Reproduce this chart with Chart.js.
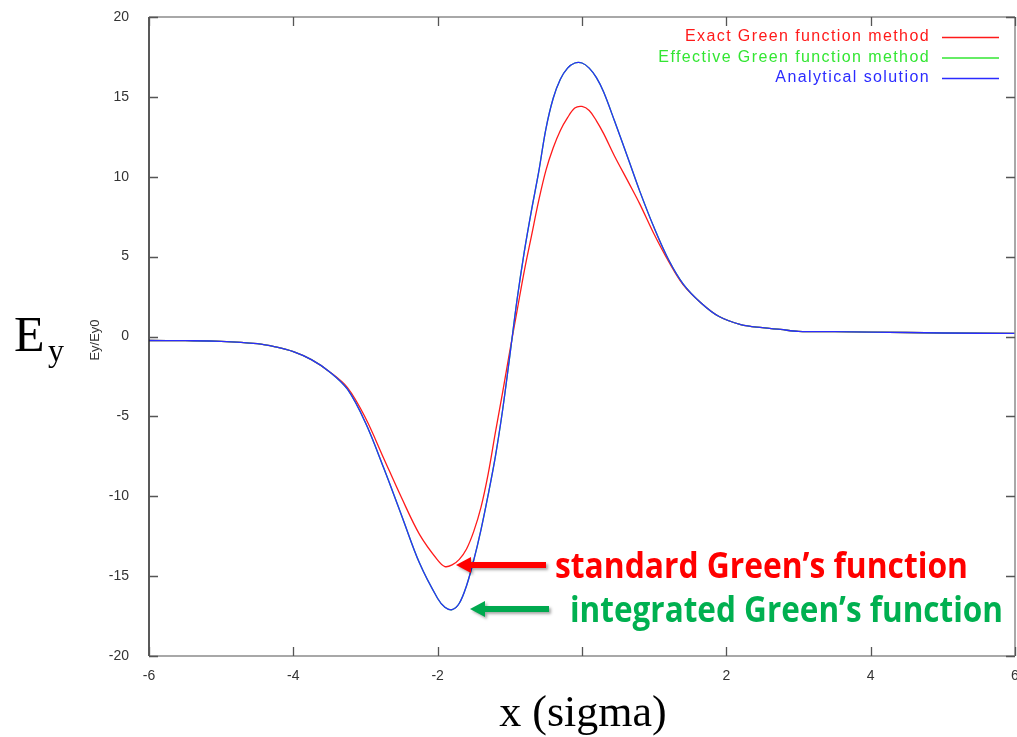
<!DOCTYPE html>
<html>
<head>
<meta charset="utf-8">
<script src="https://cdn.jsdelivr.net/npm/chart.js@4"></script>
<style>
  html, body { margin: 0; padding: 0; background: #fff; }
  #wrap { width: 1017px; height: 737px; }
</style>
</head>
<body>
<div id="wrap"><canvas id="fieldChart" width="1017" height="737"></canvas></div>
<script>
// transverse field Ey/Ey0 against x in units of sigma
const xSigma = [-6, -5.5, -5, -4.5, -4.25, -4, -3.75, -3.5, -3.25, -3, -2.75, -2.5, -2.25, -2,
  -1.9, -1.8, -1.7, -1.6, -1.5, -1.4, -1.3, -1.2, -1.1, -1, -0.9, -0.8, -0.7, -0.6, -0.5,
  -0.4, -0.3, -0.2, -0.1, 0, 0.1, 0.2, 0.3, 0.45, 0.65, 0.8, 1, 1.2, 1.4, 1.65, 1.9, 2.2, 2.5,
  2.75, 3, 3.5, 4, 5, 6]

const exactGreen = [-0.25, -0.26, -0.3, -0.45, -0.65, -0.95, -1.45, -2.2, -3.2, -5.1, -7.6, -10.1, -12.4, -14.0,
  -14.4, -14.3, -13.95, -13.3, -12.2, -10.7, -8.6, -6.0, -3.5, -0.9, 1.6, 4.1, 6.3, 8.5, 10.4,
  11.8, 12.9, 13.7, 14.3, 14.4, 14.15, 13.5, 12.7, 11.3, 9.6, 8.3, 6.4, 4.7, 3.25, 2.1, 1.25, 0.75, 0.55,
  0.44, 0.32, 0.3, 0.28, 0.22, 0.19]

const effectiveGreen = [-0.25, -0.26, -0.3, -0.45, -0.65, -0.95, -1.45, -2.2, -3.3, -5.4, -8.2, -11.2, -14.2, -16.4,
  -16.95, -17.1, -16.7, -15.6, -14.0, -12.1, -9.9, -7.5, -4.6, -1.2, 2.3, 5.3, 7.9, 10.3, 13.0,
  14.9, 16.1, 16.8, 17.12, 17.12, 16.8, 16.2, 15.3, 13.5, 11.0, 9.1, 6.8, 4.8, 3.3, 2.1, 1.25, 0.75, 0.55,
  0.44, 0.32, 0.3, 0.28, 0.22, 0.19]

const analytical = [-0.25, -0.26, -0.3, -0.45, -0.65, -0.95, -1.45, -2.2, -3.3, -5.4, -8.2, -11.2, -14.2, -16.4,
  -16.95, -17.1, -16.7, -15.6, -14.0, -12.1, -9.9, -7.5, -4.6, -1.2, 2.3, 5.3, 7.9, 10.3, 13.0,
  14.9, 16.1, 16.8, 17.12, 17.12, 16.8, 16.2, 15.3, 13.5, 11.0, 9.1, 6.8, 4.8, 3.3, 2.1, 1.25, 0.75, 0.55,
  0.44, 0.32, 0.3, 0.28, 0.22, 0.19]

const seriesNames = ['Exact Green function method', 'Effective Green function method', 'Analytical solution']
const seriesColors = ['#ff1a1a', '#33e633', '#2b2bff']

const xTicks = [-6, -4, -2, 0, 2, 4, 6]
const yTicks = [-20, -15, -10, -5, 0, 5, 10, 15, 20]

function points(ys) {
  return xSigma.map((x, i) => ({ x, y: ys[i] }))
}

function drawArrow(ctx, tailX, tipX, y, color) {
  ctx.save()
  ctx.fillStyle = color
  ctx.shadowColor = 'rgba(0,0,0,0.35)'
  ctx.shadowBlur = 3
  ctx.shadowOffsetX = 2
  ctx.shadowOffsetY = 2
  ctx.beginPath()
  ctx.moveTo(tipX, y)
  ctx.lineTo(tipX + 15, y - 8)
  ctx.lineTo(tipX + 15, y - 3)
  ctx.lineTo(tailX, y - 3)
  ctx.lineTo(tailX, y + 3)
  ctx.lineTo(tipX + 15, y + 3)
  ctx.lineTo(tipX + 15, y + 8)
  ctx.closePath()
  ctx.fill()
  ctx.restore()
}

// gnuplot style frame: border on all sides with inward ticks
const framePlugin = {
  id: 'frame',
  afterDatasetsDraw(chart) {
    const { ctx, chartArea: a, scales } = chart
    const sx = scales.x
    const sy = scales.y
    ctx.save()
    ctx.lineWidth = 1.5
    ctx.strokeStyle = '#8c8c8c'
    ctx.beginPath()
    ctx.moveTo(a.left, a.top); ctx.lineTo(a.right, a.top)
    ctx.moveTo(a.left, a.bottom); ctx.lineTo(a.right, a.bottom)
    ctx.moveTo(a.right, a.top); ctx.lineTo(a.right, a.bottom)
    ctx.stroke()
    ctx.strokeStyle = '#222'
    ctx.beginPath()
    ctx.moveTo(a.left, a.top); ctx.lineTo(a.left, a.bottom)
    ctx.stroke()

    ctx.strokeStyle = '#555'
    ctx.lineWidth = 1.3
    ctx.beginPath()
    xTicks.forEach((v) => {
      const px = Math.round(sx.getPixelForValue(v)) + 0.5
      ctx.moveTo(px, a.bottom); ctx.lineTo(px, a.bottom - 9)
      ctx.moveTo(px, a.top); ctx.lineTo(px, a.top + 9)
    })
    yTicks.forEach((v) => {
      const py = Math.round(sy.getPixelForValue(v)) + 0.5
      ctx.moveTo(a.left, py); ctx.lineTo(a.left + 9, py)
      ctx.moveTo(a.right, py); ctx.lineTo(a.right - 9, py)
    })
    ctx.stroke()
    ctx.restore()
  },
  afterDraw(chart) {
    const { ctx } = chart
    ctx.save()

    // key, top right
    ctx.font = '16px "Liberation Sans"'
    ctx.letterSpacing = '1.4px'
    ctx.textAlign = 'right'
    ctx.textBaseline = 'middle'
    seriesNames.forEach((name, i) => {
      const y = 37 + i * 20.5
      ctx.fillStyle = seriesColors[i]
      ctx.fillText(name, 930, y)
      ctx.strokeStyle = seriesColors[i]
      ctx.lineWidth = 1.3
      ctx.beginPath()
      ctx.moveTo(942, y + 0.5); ctx.lineTo(999, y + 0.5)
      ctx.stroke()
    })
    ctx.letterSpacing = '0px'

    // axis titles
    ctx.fillStyle = '#000'
    ctx.textAlign = 'left'
    ctx.textBaseline = 'alphabetic'
    ctx.font = '50px "Liberation Serif"'
    ctx.fillText('E', 14, 351)
    ctx.font = '32px "Liberation Serif"'
    ctx.fillText('y', 48, 361)

    ctx.save()
    ctx.translate(95, 340)
    ctx.rotate(-Math.PI / 2)
    ctx.textAlign = 'center'
    ctx.textBaseline = 'middle'
    ctx.font = '13px "Liberation Sans"'
    ctx.fillStyle = '#333'
    ctx.fillText('Ey/Ey0', 0, 0)
    ctx.restore()

    ctx.textAlign = 'center'
    ctx.font = '44px "Liberation Serif"'
    ctx.fillText('x (sigma)', 583, 726)

    // callouts
    drawArrow(ctx, 546, 456, 565, '#ff0000')
    drawArrow(ctx, 549, 470, 609, '#00a94f')
    ctx.textAlign = 'left'
    ctx.textBaseline = 'alphabetic'
    ctx.font = 'bold 35px "Open Sans"'
    ctx.fillStyle = '#ff0000'
    ctx.fillText('standard Green’s function', 555, 578, 413)
    ctx.fillStyle = '#00b050'
    ctx.fillText('integrated Green’s function', 570, 622, 433)

    ctx.restore()
  },
}

const tickFont = { family: 'Liberation Sans', size: 14 }

new Chart(document.getElementById('fieldChart'), {
  type: 'line',
  data: {
    datasets: [
      { label: seriesNames[0], data: points(exactGreen), borderColor: seriesColors[0], order: 3 },
      { label: seriesNames[1], data: points(effectiveGreen), borderColor: seriesColors[1], order: 2 },
      { label: seriesNames[2], data: points(analytical), borderColor: seriesColors[2], order: 1 },
    ],
  },
  options: {
    responsive: false,
    animation: false,
    layout: { padding: { top: 17, right: 2, left: 0, bottom: 0 }, autoPadding: false },
    elements: {
      point: { radius: 0 },
      line: { borderWidth: 1.3, tension: 0.35, fill: false },
    },
    plugins: { legend: { display: false }, tooltip: { enabled: false } },
    scales: {
      x: {
        type: 'linear',
        min: -6,
        max: 6,
        afterFit: (s) => {
          s.height = 81
          s.paddingLeft = 0
          s.paddingRight = 0
        },
        afterBuildTicks: (s) => { s.ticks = xTicks.map((v) => ({ value: v })) },
        grid: { display: false },
        border: { display: false },
        ticks: {
          font: tickFont,
          color: '#333',
          padding: 4,
          maxRotation: 0,
          callback: (v) => (v === 0 ? '' : String(v)),
        },
      },
      y: {
        min: -20,
        max: 20,
        afterFit: (s) => {
          s.width = 149
          s.paddingTop = 0
          s.paddingBottom = 0
        },
        afterBuildTicks: (s) => { s.ticks = yTicks.map((v) => ({ value: v })) },
        grid: { display: false },
        border: { display: false },
        ticks: { font: tickFont, color: '#333', padding: 12 },
      },
    },
  },
  plugins: [framePlugin],
})
</script>
</body>
</html>
